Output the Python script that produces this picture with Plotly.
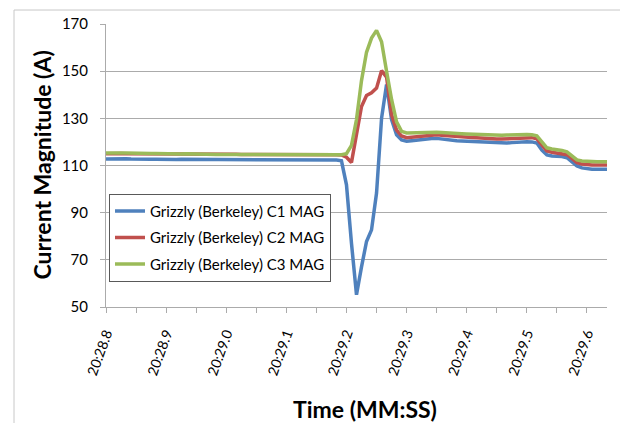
import plotly.graph_objects as go

# sample index (120 samples per second), time in seconds after 20:28
n_samples = 101
sample_rate = 120.0
t0 = 28.8
times = [t0 + k / sample_rate for k in range(n_samples)]

c1_mag = [
    112.8, 112.9, 113.0, 113.0, 112.9, 112.8,
    112.7, 112.6, 112.6, 112.6, 112.7, 112.6,
    112.6, 112.5, 112.5, 112.6, 112.6, 112.5,
    112.5, 112.5, 112.4, 112.4, 112.5, 112.6,
    112.6, 112.5, 112.4, 112.4, 112.5, 112.5,
    112.5, 112.4, 112.4, 112.5, 112.5, 112.4,
    112.4, 112.5, 112.5, 112.6, 112.6, 112.5,
    112.5, 112.5, 112.6, 112.4, 112.3, 112.0,
    101.8, 77.0, 55.2, 67.0, 77.8, 82.7, 98.3, 130.0, 144.3, 129.5, 123.0, 120.8, 120.3,
    120.5, 120.8, 121.0, 121.2, 121.4, 121.5, 121.2, 120.9, 120.6, 120.5, 120.4, 120.3,
    120.2, 120.0, 119.8, 119.6, 119.5, 119.4, 119.4, 119.5, 119.7, 119.9, 120.0, 120.1,
    120.0, 119.5, 116.5, 114.5, 114.0, 114.0, 113.8, 113.3, 111.5, 109.8, 109.0, 108.6,
    108.4, 108.4, 108.4, 108.4,
]

c2_mag = [
    115.0, 115.1, 115.1, 115.1, 115.0, 115.0,
    115.0, 115.1, 115.1, 115.1, 115.0, 115.0,
    114.9, 114.9, 114.9, 115.0, 115.0, 114.9,
    114.9, 114.8, 114.8, 114.8, 114.8, 114.8,
    114.8, 114.8, 114.8, 114.7, 114.7, 114.7,
    114.7, 114.7, 114.8, 114.8, 114.8, 114.7,
    114.7, 114.7, 114.8, 114.9, 114.9, 114.9,
    114.9, 114.8, 114.8, 114.7, 114.6, 114.5,
    113.5, 111.3, 122.3, 135.0, 139.7, 140.8, 142.8, 150.2, 147.5, 131.5, 125.0, 122.5, 121.8,
    122.0, 122.3, 122.5, 122.7, 122.9, 123.0, 122.8, 122.6, 122.4, 122.2, 122.1, 122.0,
    121.9, 121.8, 121.6, 121.4, 121.3, 121.2, 121.2, 121.3, 121.5, 121.7, 121.8, 121.9,
    121.8, 121.3, 118.5, 116.2, 115.6, 115.3, 115.0, 114.6, 113.0, 111.2, 110.6, 110.3,
    110.2, 110.2, 110.2, 110.2,
]

c3_mag = [
    115.3, 115.4, 115.4, 115.3, 115.3, 115.2,
    115.2, 115.2, 115.1, 115.1, 115.1, 115.0,
    115.0, 115.0, 114.9, 114.9, 115.0, 114.9,
    114.9, 114.8, 114.8, 114.8, 114.7, 114.7,
    114.7, 114.7, 114.7, 114.7, 114.6, 114.6,
    114.6, 114.6, 114.6, 114.6, 114.6, 114.5,
    114.5, 114.5, 114.5, 114.5, 114.5, 114.5,
    114.5, 114.6, 114.6, 114.5, 114.5, 114.6,
    115.0, 118.5, 129.5, 146.0, 158.0, 164.0, 167.3, 162.5, 150.0, 138.0, 128.5, 124.5, 123.8,
    123.9, 124.0, 124.0, 124.1, 124.1, 124.1, 124.0, 123.8, 123.7, 123.6, 123.5, 123.4,
    123.3, 123.2, 123.0, 122.9, 122.8, 122.8, 122.8, 122.9, 123.0, 123.0, 123.1, 123.1,
    123.0, 122.6, 120.0, 117.5, 117.0, 116.8, 116.4, 115.8, 114.0, 112.4, 111.9, 111.7,
    111.6, 111.6, 111.6, 111.6,
]

series_names = [
    "Grizzly (Berkeley) C1 MAG",
    "Grizzly (Berkeley) C2 MAG",
    "Grizzly (Berkeley) C3 MAG",
]
series_colors = ["#4F81BD", "#C0504D", "#9BBB59"]

y_ticks = [50, 70, 90, 110, 130, 150, 170]

FONT = "Lato, 'Open Sans', sans-serif"
GRID = "#ABABAB"

fig = go.Figure()
for name, vals, col in zip(series_names, [c1_mag, c2_mag, c3_mag], series_colors):
    fig.add_trace(go.Scatter(
        x=times, y=vals, mode="lines", name=name, legendgroup=name,
        line=dict(color=col, width=3.5),
    ))

# the page body has an 8px default margin; lay out in page pixels
OFF = 8
PAGE_W, PAGE_H = 628, 423
W, H = PAGE_W - OFF, PAGE_H - OFF
plot_left, plot_right, plot_top, plot_bottom = 106, 607, 24, 307.5
L = plot_left - OFF
R = W - (plot_right - OFF)
T = plot_top - OFF
B = H - (plot_bottom - OFF)
pw, ph = plot_right - plot_left, plot_bottom - plot_top

def px(x):
    return (x - plot_left) / pw

def py(y):
    return (plot_bottom - y) / ph

fig.update_layout(
    width=W, height=H,
    margin=dict(l=L, r=R, t=T, b=B, autoexpand=False),
    paper_bgcolor="white", plot_bgcolor="white",
    font=dict(family=FONT, size=15, color="black"),
    showlegend=True,
    legend=dict(
        x=px(109), y=py(194), xanchor="left", yanchor="top",
        bgcolor="white", bordercolor="#595959", borderwidth=1,
        font=dict(family=FONT, size=15, color="black"),
        tracegroupgap=4, traceorder="grouped",
    ),
    xaxis=dict(
        range=[times[0], times[-1]],
        tickmode="linear", tick0=t0, dtick=0.1,
        tickprefix="20:", tickformat=".1f", tickangle=-70,
        ticks="outside", ticklen=5, tickcolor=GRID,
        minor=dict(dtick=0.05, tick0=t0, ticks="outside", ticklen=5, tickcolor=GRID),
        showgrid=False, zeroline=False,
        showline=True, linecolor=GRID, linewidth=1,
        tickfont=dict(family=FONT, size=14, color="black"),
        ticklabelstandoff=7,
    ),
    yaxis=dict(
        range=[50, 170], tickvals=y_ticks,
        ticks="outside", ticklen=5, tickcolor=GRID,
        showgrid=True, gridcolor=GRID, gridwidth=1,
        zeroline=False, showline=True, linecolor=GRID, linewidth=1,
        tickfont=dict(family=FONT, size=15, color="black"),
        ticklabelstandoff=9,
    ),
    shapes=[dict(
        type="rect", xref="paper", yref="paper",
        x0=px(14), x1=px(622), y0=py(440), y1=py(10),
        line=dict(color="#C8C8C8", width=1), fillcolor="rgba(0,0,0,0)", layer="below",
    )],
    annotations=[
        dict(text="<b>Current Magnitude (A)</b>", xref="paper", yref="paper",
             x=px(41), y=0.5, textangle=-90, showarrow=False,
             xanchor="center", yanchor="middle",
             font=dict(family=FONT, size=23, color="black")),
        dict(text="<b>Time (MM:SS)</b>", xref="paper", yref="paper",
             x=px(365), y=py(410), showarrow=False,
             xanchor="center", yanchor="middle",
             font=dict(family=FONT, size=23, color="black")),
    ],
)

fig.write_html("out.html")
